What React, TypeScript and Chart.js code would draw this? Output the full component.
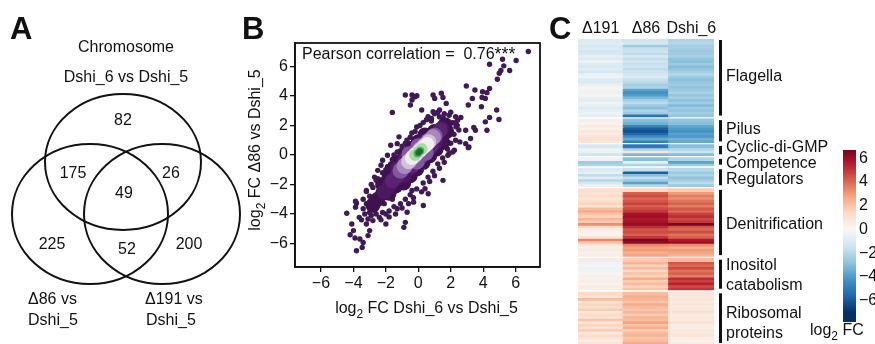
import React, { useEffect, useRef } from 'react';
import { Chart, registerables } from 'chart.js';
Chart.register(...registerables);

const FONT = '"Liberation Sans", Arial, Helvetica, sans-serif';
const INK = '#111111';

// ---------------- Panel A: Venn diagram ----------------
const vennHeader = ['Chromosome', 'Dshi_6 vs Dshi_5'];
const vennLeftSet = ['Δ86 vs', 'Dshi_5'];
const vennRightSet = ['Δ191 vs', 'Dshi_5'];
const vennRegions = ['Dshi_6 only', 'Dshi_6 & Δ86', 'Dshi_6 & Δ191', 'all', 'Δ86 only', 'Δ86 & Δ191', 'Δ191 only'];
const vennCounts = [82, 175, 26, 49, 225, 52, 200];

// ---------------- Panel B: scatter ----------------
const scatterTicks = [-6, -4, -2, 0, 2, 4, 6];
const pearsonValue = '0.76';
const outlierPoints: [number, number][] = [
  [6.78, 7.02], [4.39, 6.16], [5.19, 6.5], [5.27, 6.05], [6.03, 6.41], [5.63, 5.73], [5.09, 5.73], [4.99, 5.55],
  [4.87, 5.14], [2.96, 4.68], [3.49, 4.41], [3.96, 4.29], [4.23, 4.23], [4.39, 4.52], [3.93, 3.91], [4.13, 3.84],
  [3.33, 3.84], [3.08, 3.39], [3.89, 3.27], [4.83, 3.05], [4.39, 2.55], [4.97, 2.41], [4.13, 2.25], [4.23, 1.68],
  [3.52, 1.68], [3.42, 1.87], [3.22, 1.12], [2.92, 1.68], [2.56, 0.89], [2.42, 2.36], [2.62, 2.55], [2.22, 2.18],
  [3.08, 0.5], [2.22, 0.32], [1.82, -0.02], [1.52, 2.59], [1.31, 3.05], [0.91, 2.93], [0.81, 2.48], [-0.39, 4.07],
  [-0.19, 3.95], [-0.39, 3.73], [0.91, 4.07], [1.42, 4.19], [1.52, 3.91], [1.01, 3.84], [0.21, 3.05], [-0.49, 3.39],
  [1.72, 3.5], [-0.8, 4.07], [-0.09, 4.02], [-1.6, 2.89], [-1.19, 1.23], [-1.7, 0.66], [1.92, 1.46], [2.32, 1.91],
  [2.92, 0.77], [3.12, 0.55], [2.12, 0.2], [1.52, -1.72], [0.61, -2.63], [0.31, -3.43],
  [-4.41, -3.95], [-3.87, -3.54], [-3.81, -3.27], [-3.64, -4.23], [-4.1, -4.68], [-4.0, -5.13], [-4.2, -5.41],
  [-3.9, -5.63], [-3.6, -5.7], [-3.81, -6.5], [-3.46, -6.27], [-3.4, -5.93], [-3.1, -5.47], [-3.0, -5.13],
  [-3.2, -4.68], [-3.1, -4.34], [-2.8, -4.45], [-2.4, -4.23], [-2.0, -4.68], [-2.0, -4.0], [-3.2, -2.41],
  [-2.7, -3.77], [-2.5, -3.43], [-3.4, -3.65], [-0.89, -4.91], [-0.8, -4.57], [-1.3, -3.65], [-0.69, -3.88],
  [-0.29, -3.2], [-0.39, -2.41], [0.41, -2.29], [-1.9, -0.02], [-2.2, -0.36], [-2.3, -0.7], [-2.5, -1.04],
  [-2.6, -1.72], [-1.3, 0.77], [-3.87, -3.13], [-3.2, -2.47],
];
const cloudEdgePoints: [number, number][] = [
  [-2.5, -1.6], [-2.2, -1.2], [-2.8, -2.2], [-3.0, -2.8], [-3.2, -3.3], [-1.9, -0.8], [-1.6, -0.3], [-1.3, 0.2],
  [-1.0, 0.6], [-0.7, 1.0], [-0.4, 1.5], [-0.1, 1.9], [0.3, 2.2], [0.6, 2.6], [1.0, 2.8], [1.3, 2.6], [1.6, 2.8],
  [2.0, 2.9], [2.3, 2.6], [2.4, 2.0], [2.2, 1.4], [2.0, 0.8], [1.8, 0.4], [1.5, -0.2], [1.2, -0.6], [0.9, -1.1],
  [0.6, -1.5], [0.3, -1.9], [-0.1, -2.3], [-0.5, -2.7], [-0.8, -3.0], [-1.1, -3.3], [-1.5, -3.5], [-1.8, -3.8],
  [-2.2, -3.9], [-2.6, -4.0], [-3.0, -3.9],
  [-3.3, -4.0], [-3.5, -4.4], [-2.9, -4.1], [-2.6, -3.6], [-3.4, -3.0], [-2.9, -2.0], [-2.7, -1.5], [-2.35, -1.9],
  [-2.0, -1.0], [-1.7, -0.6], [-1.5, 0.0], [-1.1, 0.3], [-0.8, 0.8], [-0.5, 1.2], [-0.2, 1.6], [0.1, 2.0],
  [0.5, 2.4], [0.8, 2.3], [1.2, 2.9], [1.9, 2.7], [2.1, 2.2], [2.5, 1.7], [2.3, 1.0], [1.9, 0.1], [1.6, -0.5],
  [1.3, -0.9], [1.0, -1.4], [0.7, -1.8], [0.2, -2.5], [-0.3, -2.9], [-0.6, -3.3], [-1.0, -3.6], [-1.4, -4.0],
  [-1.8, -4.2], [-2.3, -4.4], [-2.1, -3.3], [-1.6, -3.0],
];
// density levels, from sparse (outer) to dense (centre)
const densityLevel1: [number, number][] = [
  [-2.8, -3.4], [-2.5, -3.0], [-2.2, -2.6], [-1.9, -2.2], [-1.6, -1.8], [-1.3, -1.4], [-1.0, -1.05], [-0.7, -0.7],
  [-0.4, -0.35], [-0.1, 0.0], [0.2, 0.35], [0.5, 0.7], [0.8, 1.05], [1.1, 1.4], [1.4, 1.75], [1.65, 2.05],
  [-2.2, -2.0], [-1.8, -1.5], [-1.4, -1.0], [-1.0, -0.55], [-0.6, -0.1], [-0.2, 0.35], [0.2, 0.8], [0.6, 1.2],
  [1.0, 1.6], [-1.8, -2.6], [-1.4, -2.1], [-1.0, -1.6], [-0.6, -1.1], [-0.2, -0.6], [0.2, -0.15], [0.6, 0.3],
  [1.0, 0.75], [1.4, 1.2], [1.75, 1.6],
  [-1.6, -1.0], [-1.2, -0.5], [-0.8, 0.0], [-0.4, 0.45], [0.0, 0.9], [0.4, 1.35],
  [-0.9, -1.9], [-0.5, -1.4], [-0.1, -0.95], [0.3, -0.5], [0.7, -0.05], [1.1, 0.4], [1.5, 0.85],
];
const densityLevel2: [number, number][] = [
  [-2.1, -2.5], [-1.8, -2.1], [-1.5, -1.7], [-1.2, -1.3], [-0.9, -0.95], [-0.6, -0.6], [-0.3, -0.25], [0.0, 0.1],
  [0.3, 0.45], [0.6, 0.8], [0.9, 1.15], [1.2, 1.5], [1.45, 1.8], [-1.3, -0.9], [-0.9, -0.45], [-0.5, 0.0],
  [-0.1, 0.45], [0.3, 0.9], [-0.9, -1.4], [-0.5, -0.9], [-0.1, -0.45], [0.3, 0.0], [0.7, 0.45], [1.1, 0.9],
];
const densityLevel3: [number, number][] = [
  [-1.6, -1.75], [-1.3, -1.4], [-1.0, -1.05], [-0.7, -0.7], [-0.4, -0.35], [-0.1, 0.0], [0.2, 0.35], [0.5, 0.7],
  [0.8, 1.05], [1.1, 1.4], [1.35, 1.7], [-0.8, -0.35], [-0.4, 0.1], [0.0, 0.55], [-0.4, -0.75], [0.0, -0.3],
  [0.4, 0.15], [0.8, 0.6],
];
const densityLevel4: [number, number][] = [
  [-1.1, -1.1], [-0.8, -0.8], [-0.5, -0.45], [-0.2, -0.1], [0.1, 0.25], [0.4, 0.6], [0.7, 0.95], [1.0, 1.3],
  [-0.5, -0.05], [-0.1, 0.4], [0.1, -0.2], [0.5, 0.25],
];
const densityLevel5: [number, number][] = [
  [-1.1, -1.05], [-0.8, -0.7], [-0.5, -0.35], [-0.2, 0.0], [0.1, 0.35], [0.4, 0.7], [0.7, 1.0], [1.0, 1.3],
  [-0.55, 0.05], [0.0, 0.6], [-0.1, -0.45], [0.45, 0.15],
];
const densityLevel6: [number, number][] = [
  [-0.85, -0.75], [-0.55, -0.4], [-0.25, -0.05], [0.05, 0.3], [0.35, 0.6], [0.65, 0.95], [0.9, 1.2],
];
const densityLevel7: [number, number][] = [[-0.6, -0.45], [-0.35, -0.15], [-0.1, 0.1], [0.15, 0.4], [0.4, 0.65], [0.65, 0.9]];
const densityLevel8: [number, number][] = [[-0.4, -0.2], [-0.15, 0.05], [0.1, 0.3], [0.35, 0.55], [0.55, 0.75]];
const densityLevel9: [number, number][] = [[-0.2, 0.0], [0.0, 0.2], [0.2, 0.4]];
const densityLevel10: [number, number][] = [[-0.05, 0.1], [0.12, 0.28]];
const densityLevel11: [number, number][] = [[0.0, 0.15], [0.1, 0.25]];

// ---------------- Panel C: heatmap ----------------
const heatColumns = ['Δ191', 'Δ86', 'Dshi_6'];
const groupNames = ['Flagella', 'Pilus', 'Cyclic-di-GMP', 'Competence', 'Regulators', 'Denitrification', 'Inositol\ncatabolism', 'Ribosomal\nproteins'];
const groupSizes = [30, 9, 4, 3, 7, 26, 12, 20];
const fcD191 = [
  -1.0, -0.8, -1.2, -1.0, -1.3, -1.1, -0.7, -1.0, -0.4, -0.9, -1.2, -0.8, -1.3, -0.5, -0.3, -0.9, -1.1, -0.6, -0.2, 0.3, -0.4, 0.2, -0.6, -0.8, -0.3, -0.5, -0.9, -0.6, -0.4, -0.7,
  0.4, 0.2, 0.6, 0.3, 0.8, 0.5, 1.0, 1.2, 0.9,
  -1.2, -0.3, -0.5, -1.4,
  -0.4, -2.6, -2.2,
  -1.0, -0.6, -1.8, -0.8, -2.0, -1.2, -0.4,
  1.2, 1.0, 1.4, 0.8, 1.2, 1.6, 1.0, 2.2, 2.6, 2.0, 1.6, 2.4, 1.8, 3.2, 1.4, 0.6, 0.2, 0.3, 1.0, 3.4, 2.0, 0.8, 0.4, 0.6, 0.3, 0.5,
  0.6, -0.3, -0.2, -0.4, -0.3, 0.2, 0.4, 0.3, 0.5, 0.2, 0.6, 0.4,
  1.4, 1.0, 2.2, 0.8, 1.6, 1.2, 1.8, 0.6, 1.4, 1.0, 2.0, 0.8, 1.6, 1.2, 1.8, 0.7, 1.4, 1.0, 0.5, 0.9,
];
const fcD86 = [
  -1.4, -1.2, -2.6, -1.6, -1.5, -1.8, -1.2, -1.7, -1.3, -1.6, -1.4, -1.8, -1.5, -1.3, -1.0, -1.6, -1.9, -2.4, -2.2, -3.8, -4.3, -4.0, -3.2, -2.4, -1.9, -2.6, -2.9, -2.2, -2.5, -5.2,
  -3.0, -3.4, -4.6, -5.8, -6.2, -5.5, -4.4, -3.6, -4.8,
  -5.0, -2.2, 1.0, -3.2,
  -3.0, -0.6, -2.2,
  -1.6, -5.8, -3.0, -1.8, -2.6, -3.8, -2.0,
  1.5, 4.2, 4.6, 4.0, 4.4, 4.8, 4.2, 4.6, 5.0, 5.8, 6.0, 5.6, 5.9, 6.2, 5.2, 4.4, 4.6, 4.2, 5.0, 6.6, 6.2, 3.4, 2.8, 3.0, 2.6, 2.8,
  1.8, 2.4, 1.6, 2.2, 1.4, 2.0, 1.6, 2.6, 1.8, 2.2, 1.6, 2.0,
  2.2, 2.6, 2.4, 2.0, 2.6, 2.2, 2.0, 2.4, 1.8, 2.4, 2.2, 2.8, 2.0, 2.6, 1.8, 2.2, 2.4, 2.0, 2.2, 2.6,
];
const fcDshi6 = [
  -2.2, -2.0, -2.4, -2.4, -2.6, -2.5, -2.3, -2.8, -2.9, -2.6, -3.0, -2.8, -2.4, -2.0, -2.6, -2.9, -2.7, -2.5, -2.8, -2.6, -2.3, -2.7, -2.4, -2.9, -2.5, -3.1, -2.6, -2.8, -2.4, -2.7,
  -2.8, -3.0, -3.6, -4.0, -4.2, -3.8, -4.0, -3.4, -3.6,
  -3.0, -2.0, -1.5, -3.0,
  -2.2, -3.8, -2.6,
  -2.0, -2.6, -2.2, -2.8, -2.4, -1.8, -2.6,
  1.8, 3.0, 3.6, 3.2, 3.8, 4.2, 3.6, 4.4, 4.0, 4.8, 5.2, 4.6, 5.0, 6.6, 4.4, 4.0, 4.6, 3.8, 4.2, 5.6, 6.0, 3.2, 2.6, 3.0, 2.8, 2.4,
  2.2, 4.4, 4.0, 4.6, 3.8, 4.2, 3.6, 5.2, 4.8, 5.4, 4.6, 5.0,
  0.8, 0.6, 1.0, 0.5, 0.9, 0.6, 0.8, 1.2, 0.5, 0.8, 0.6, 1.0, 0.7, 0.4, 0.8, 0.6, 1.0, 0.5, 0.3, 0.6,
];
const colorbarTicks = [6, 4, 2, 0, -2, -4, -6];
const colorbarRange = [-7.8, 6.7];

// ---------------- layout & style (not data) ----------------
const VENN_LAYOUT = {
  ellipses: [
    { cx: 123, cy: 162, rx: 78, ry: 68 },
    { cx: 90, cy: 214, rx: 78, ry: 70 },
    { cx: 162, cy: 214, rx: 78, ry: 70 },
  ],
  countPos: [[123, 125], [73, 178], [171, 178], [124, 198], [52, 249], [127, 254], [189, 249]],
};
const DENSITY_STYLE = [
  { color: '#3e1250', r: 7.5 },
  { color: '#4a1960', r: 7.5 },
  { color: '#5a2472', r: 7.5 },
  { color: '#6d3386', r: 7.5 },
  { color: '#8256a0', r: 8 },
  { color: '#a887bf', r: 8 },
  { color: '#d2c0dd', r: 7.5 },
  { color: '#f1ecf2', r: 7 },
  { color: '#a9dca2', r: 6 },
  { color: '#5aae61', r: 4 },
  { color: '#1b6e34', r: 3 },
];
const DOT_COLOR = '#3f1a55';
const RDBU = ['#053061', '#2166ac', '#4393c3', '#92c5de', '#d1e5f0', '#f7f7f7', '#fddbc7', '#f4a582', '#d6604d', '#b2182b', '#67001f'];
const GROUP_LABEL_SHIFT = [-2, -2, -4, 1, 1, 1, 0, 4];

function hexToRgb(h: string) {
  const n = parseInt(h.slice(1), 16);
  return [(n >> 16) & 255, (n >> 8) & 255, n & 255];
}
function cmap(v: number) {
  const t = Math.max(0, Math.min(1, (v + 7) / 14));
  const p = t * 10;
  const i = Math.min(9, Math.floor(p));
  const f = p - i;
  const a = hexToRgb(RDBU[i]);
  const b = hexToRgb(RDBU[i + 1]);
  const c = a.map((x, k) => Math.round(x + (b[k] - x) * f));
  return `rgb(${c[0]},${c[1]},${c[2]})`;
}
const fmt = (v: number) => (v < 0 ? '\u2212' + Math.abs(v) : String(v));

type Part = { t: string; sub?: boolean; sup?: boolean; size?: number; dy?: number };
function drawRich(ctx: CanvasRenderingContext2D, parts: Part[], x: number, y: number, align: 'left' | 'center' | 'right', size = 16) {
  const fontOf = (p: Part) => `${p.size ? p.size : p.sub || p.sup ? Math.round(size * 0.78) : size}px ${FONT}`;
  const widths = parts.map((p) => {
    ctx.font = fontOf(p);
    return ctx.measureText(p.t).width;
  });
  const total = widths.reduce((a, b) => a + b, 0);
  let cx = align === 'left' ? x : align === 'center' ? x - total / 2 : x - total;
  ctx.textAlign = 'left';
  ctx.textBaseline = 'alphabetic';
  parts.forEach((p, i) => {
    ctx.font = fontOf(p);
    const dy = p.dy !== undefined ? p.dy : p.sub ? size * 0.3 : p.sup ? -size * 0.38 : 0;
    ctx.fillText(p.t, cx, y + dy);
    cx += widths[i];
  });
}
function panelLetter(ctx: CanvasRenderingContext2D, t: string, x: number, y: number) {
  ctx.save();
  ctx.fillStyle = INK;
  ctx.font = `bold 31px ${FONT}`;
  ctx.textAlign = 'left';
  ctx.textBaseline = 'alphabetic';
  ctx.fillText(t, x, y);
  ctx.restore();
}

const toXY = (a: [number, number][]) => a.map(([x, y]) => ({ x, y }));

function makeVenn(canvas: HTMLCanvasElement) {
  const pts = vennCounts.map((c, i) => ({ x: VENN_LAYOUT.countPos[i][0], y: VENN_LAYOUT.countPos[i][1], count: c, region: vennRegions[i] }));
  return new Chart(canvas, {
    type: 'scatter',
    data: { datasets: [{ data: pts as any, pointRadius: 0, pointHoverRadius: 0 }] },
    options: {
      responsive: false,
      animation: false,
      events: [],
      layout: { padding: 0 },
      scales: {
        x: { type: 'linear', min: 0, max: 245, display: false },
        y: { type: 'linear', min: 0, max: 344, reverse: true, display: false },
      },
      plugins: { legend: { display: false }, tooltip: { enabled: false } },
    },
    plugins: [
      {
        id: 'venn',
        afterDatasetsDraw(chart: any) {
          const ctx = chart.ctx as CanvasRenderingContext2D;
          const xs = chart.scales.x;
          const ys = chart.scales.y;
          ctx.save();
          ctx.strokeStyle = INK;
          ctx.lineWidth = 2;
          VENN_LAYOUT.ellipses.forEach((e) => {
            const px = xs.getPixelForValue(e.cx);
            const py = ys.getPixelForValue(e.cy);
            const rx = xs.getPixelForValue(e.cx + e.rx) - px;
            const ry = Math.abs(ys.getPixelForValue(e.cy + e.ry) - py);
            ctx.beginPath();
            ctx.ellipse(px, py, rx, ry, 0, 0, Math.PI * 2);
            ctx.stroke();
          });
          ctx.fillStyle = INK;
          const meta = chart.getDatasetMeta(0);
          meta.data.forEach((el: any, i: number) => {
            drawRich(ctx, [{ t: String(vennCounts[i]) }], el.x, el.y, 'center');
          });
          drawRich(ctx, [{ t: vennHeader[0] }], xs.getPixelForValue(126), ys.getPixelForValue(52), 'center');
          drawRich(ctx, [{ t: vennHeader[1] }], xs.getPixelForValue(126), ys.getPixelForValue(82), 'center');
          drawRich(ctx, [{ t: vennLeftSet[0] }], xs.getPixelForValue(28), ys.getPixelForValue(304), 'left');
          drawRich(ctx, [{ t: vennLeftSet[1] }], xs.getPixelForValue(28), ys.getPixelForValue(325), 'left');
          drawRich(ctx, [{ t: vennRightSet[0] }], xs.getPixelForValue(145), ys.getPixelForValue(304), 'left');
          drawRich(ctx, [{ t: vennRightSet[1] }], xs.getPixelForValue(146), ys.getPixelForValue(325), 'left');
          ctx.restore();
          panelLetter(ctx, 'A', 10, 39);
        },
      },
    ],
  } as any);
}

function makeScatter(canvas: HTMLCanvasElement) {
  const levels = [densityLevel1, densityLevel2, densityLevel3, densityLevel4, densityLevel5, densityLevel6, densityLevel7, densityLevel8, densityLevel9, densityLevel10, densityLevel11];
  const ds: any[] = [];
  for (let i = levels.length - 1; i >= 0; i--) {
    ds.push({ data: toXY(levels[i]), pointRadius: DENSITY_STYLE[i].r, pointHoverRadius: DENSITY_STYLE[i].r, backgroundColor: DENSITY_STYLE[i].color, borderWidth: 0 });
  }
  ds.push({ data: toXY(cloudEdgePoints), pointRadius: 2.7, pointHoverRadius: 2.7, backgroundColor: DOT_COLOR, borderWidth: 0 });
  ds.push({ data: toXY(outlierPoints), pointRadius: 2.7, pointHoverRadius: 2.7, backgroundColor: DOT_COLOR, borderWidth: 0 });
  const axis = (min: number, max: number, fit: (s: any) => void) => ({
    type: 'linear',
    min,
    max,
    afterBuildTicks: (s: any) => {
      s.ticks = scatterTicks.map((v) => ({ value: v }));
    },
    afterFit: fit,
    grid: { display: true, drawOnChartArea: false, drawTicks: true, tickLength: 5, color: INK, lineWidth: 1.3 },
    border: { display: true, color: INK, width: 1.6 },
    ticks: { font: { family: FONT, size: 16 }, color: INK, padding: 2, maxRotation: 0, autoSkip: false, callback: (v: number) => fmt(v) },
  });
  return new Chart(canvas, {
    type: 'scatter',
    data: { datasets: ds },
    options: {
      responsive: false,
      animation: false,
      events: [],
      layout: { padding: { left: 0, right: 3, top: 43, bottom: 0 } },
      scales: {
        x: axis(-7.6, 7.5, (s: any) => { s.height = 77; }),
        y: axis(-7.6, 7.6, (s: any) => { s.width = 57; }),
      },
      plugins: { legend: { display: false }, tooltip: { enabled: false } },
    },
    plugins: [
      {
        id: 'frame',
        afterDraw(chart: any) {
          const ctx = chart.ctx as CanvasRenderingContext2D;
          const a = chart.chartArea;
          ctx.save();
          ctx.strokeStyle = INK;
          ctx.lineWidth = 1.8;
          ctx.strokeRect(a.left, a.top, a.right - a.left, a.bottom - a.top);
          ctx.fillStyle = INK;
          drawRich(ctx, [{ t: 'Pearson correlation =  ' + pearsonValue }, { t: '***', size: 18, dy: 1 }], a.left + 7, a.top + 16, 'left');
          drawRich(ctx, [{ t: 'log' }, { t: '2', sub: true }, { t: ' FC Dshi_6 vs Dshi_5' }], (a.left + a.right) / 2 + 9, a.bottom + 46, 'center');
          ctx.translate(a.left - 35, a.top + 107);
          ctx.rotate(-Math.PI / 2);
          drawRich(ctx, [{ t: 'log' }, { t: '2', sub: true }, { t: ' FC Δ86 vs Dshi_5' }], 0, 0, 'center');
          ctx.restore();
          panelLetter(ctx, 'B', 4, 39);
        },
      },
    ],
  } as any);
}

const GAP_UNITS = 1.0;
function makeHeat(canvas: HTMLCanvasElement) {
  const datasets: any[] = [];
  const groupSpan: [number, number][] = [];
  let row = 0;
  let pos = 0;
  groupSizes.forEach((n, g) => {
    if (g > 0) {
      datasets.push({ data: [GAP_UNITS, GAP_UNITS, GAP_UNITS], backgroundColor: 'rgba(0,0,0,0)', inflateAmount: 0 });
      pos += GAP_UNITS;
    }
    groupSpan.push([pos, pos + n]);
    for (let k = 0; k < n; k++, row++) {
      datasets.push({
        data: [1, 1, 1],
        backgroundColor: [cmap(fcD191[row]), cmap(fcD86[row]), cmap(fcDshi6[row])],
        inflateAmount: 0.6,
      });
    }
    pos += n;
  });
  const total = pos;
  return new Chart(canvas, {
    type: 'bar',
    data: { labels: heatColumns, datasets },
    options: {
      responsive: false,
      animation: false,
      events: [],
      layout: { padding: { left: 30, right: 161, top: 39, bottom: 0 } },
      datasets: { bar: { barPercentage: 1, categoryPercentage: 1, borderWidth: 0, borderSkipped: false } },
      scales: {
        x: { stacked: true, display: false },
        y: { stacked: true, display: false, min: 0, max: total, reverse: true },
      },
      plugins: { legend: { display: false }, tooltip: { enabled: false } },
    },
    plugins: [
      {
        id: 'heatText',
        afterDraw(chart: any) {
          const ctx = chart.ctx as CanvasRenderingContext2D;
          const a = chart.chartArea;
          const xs = chart.scales.x;
          const ys = chart.scales.y;
          ctx.save();
          ctx.fillStyle = INK;
          heatColumns.forEach((c, i) => drawRich(ctx, [{ t: c }], xs.getPixelForValue(i), 33, 'center'));
          groupNames.forEach((name, g) => {
            const y0 = ys.getPixelForValue(groupSpan[g][0]);
            const y1 = Math.min(ys.getPixelForValue(groupSpan[g][1]), a.bottom);
            ctx.fillStyle = INK;
            ctx.fillRect(a.right + 5, y0 + 1, 3, y1 - y0 - 2);
            const lines = name.split('\n');
            const mid = (y0 + y1) / 2 + GROUP_LABEL_SHIFT[g];
            lines.forEach((ln, k) => {
              const cy = mid + (k - (lines.length - 1) / 2) * 20;
              drawRich(ctx, [{ t: ln }], a.right + 12, cy + 5.7, 'left');
            });
          });
          ctx.restore();
          panelLetter(ctx, 'C', 1, 39);
        },
      },
    ],
  } as any);
}

function makeColorbar(canvas: HTMLCanvasElement) {
  const [cbMin, cbMax] = colorbarRange;
  return new Chart(canvas, {
    type: 'bar',
    data: {
      labels: ['log2 FC'],
      datasets: [
        {
          data: [[cbMin, cbMax]],
          borderWidth: 0,
          barPercentage: 1,
          categoryPercentage: 1,
          inflateAmount: 0,
          backgroundColor: (c: any) => {
            const chart = c.chart;
            if (!chart.chartArea) return '#cccccc';
            const ys = chart.scales.y;
            const top = ys.getPixelForValue(cbMax);
            const bot = ys.getPixelForValue(cbMin);
            const g = chart.ctx.createLinearGradient(0, top, 0, bot);
            for (let k = 0; k <= 60; k++) {
              const v = cbMax - ((cbMax - cbMin) * k) / 60;
              g.addColorStop(k / 60, cmap(v));
            }
            return g;
          },
        },
      ],
    },
    options: {
      responsive: false,
      animation: false,
      events: [],
      layout: { padding: { left: 43, right: 0, top: 150, bottom: 22 } },
      scales: {
        x: { display: false },
        y: {
          position: 'right',
          min: cbMin,
          max: cbMax,
          afterBuildTicks: (s: any) => {
            s.ticks = colorbarTicks.map((v) => ({ value: v }));
          },
          afterFit: (s: any) => { s.width = 19; },
          grid: { display: false, drawTicks: false },
          border: { display: false },
          ticks: { font: { family: FONT, size: 16 }, color: INK, padding: 3, autoSkip: false, callback: (v: number) => fmt(v) },
        },
      },
      plugins: { legend: { display: false }, tooltip: { enabled: false } },
    },
    plugins: [
      {
        id: 'cbTitle',
        afterDraw(chart: any) {
          const ctx = chart.ctx as CanvasRenderingContext2D;
          ctx.save();
          ctx.fillStyle = INK;
          drawRich(ctx, [{ t: 'log' }, { t: '2', sub: true }, { t: ' FC' }], 10, 335, 'left');
          ctx.restore();
        },
      },
    ],
  } as any);
}

export default function App() {
  const vennRef = useRef<HTMLCanvasElement>(null);
  const scatRef = useRef<HTMLCanvasElement>(null);
  const heatRef = useRef<HTMLCanvasElement>(null);
  const cbRef = useRef<HTMLCanvasElement>(null);
  useEffect(() => {
    document.body.style.margin = '0';
    const charts = [
      makeVenn(vennRef.current!),
      makeScatter(scatRef.current!),
      makeHeat(heatRef.current!),
      makeColorbar(cbRef.current!),
    ];
    return () => charts.forEach((c) => c.destroy());
  }, []);
  const cs = (left: number, width: number): React.CSSProperties => ({ position: 'absolute', left, top: 0, width, height: 344 });
  return (
    <div style={{ position: 'relative', width: 875, height: 344, background: '#ffffff', overflow: 'hidden' }}>
      <canvas ref={vennRef} width={245} height={344} style={cs(0, 245)} />
      <canvas ref={scatRef} width={310} height={344} style={cs(238, 310)} />
      <canvas ref={heatRef} width={327} height={344} style={cs(548, 327)} />
      <canvas ref={cbRef} width={75} height={344} style={cs(800, 75)} />
    </div>
  );
}
